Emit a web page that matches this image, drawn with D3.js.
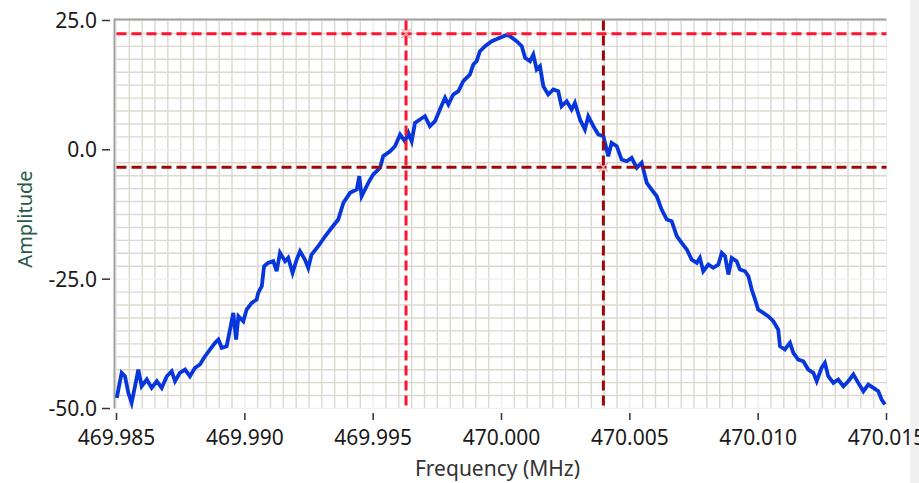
<!DOCTYPE html>
<html lang="en">
	<head>
		<meta charset="utf-8">
		<title>Spectrum</title>
		<script src="https://d3js.org/d3.v7.min.js"></script>
		<style type="text/css">
			body {
				margin: 0;
				background-color: #ffffff;
				font-family: "Noto Sans", "Open Sans", Arial, sans-serif;
			}
			svg { display: block; }
		</style>
	</head>
	<body>
		<script type="text/javascript">

			// Trace: frequency (MHz) and amplitude
			var freq = [
				469.98501, 469.98520, 469.98533, 469.98546, 469.98559, 469.98572, 469.98585, 469.98598,
				469.98618, 469.98637, 469.98657, 469.98676, 469.98696, 469.98715, 469.98728, 469.98747,
				469.98767, 469.98786, 469.98806, 469.98825, 469.98845, 469.98864, 469.98884, 469.98897,
				469.98910, 469.98929, 469.98945, 469.98955, 469.98966, 469.98975, 469.98994, 469.99007,
				469.99027, 469.99046, 469.99052, 469.99066, 469.99075, 469.99091, 469.99111, 469.99124,
				469.99137, 469.99157, 469.99169, 469.99186, 469.99202, 469.99215, 469.99234, 469.99247,
				469.99260, 469.99286, 469.99312, 469.99336, 469.99364, 469.99384, 469.99410, 469.99436,
				469.99446, 469.99455, 469.99481, 469.99500, 469.99527, 469.99539, 469.99566, 469.99585,
				469.99605, 469.99624, 469.99637, 469.99650, 469.99663, 469.99682, 469.99702, 469.99721,
				469.99741, 469.99760, 469.99780, 469.99793, 469.99812, 469.99832, 469.99851, 469.99877,
				469.99890, 469.99903, 469.99916, 469.99936, 469.99962, 469.99994, 470.00020, 470.00033,
				470.00059, 470.00079, 470.00092, 470.00111, 470.00124, 470.00137, 470.00150, 470.00163,
				470.00182, 470.00202, 470.00221, 470.00234, 470.00254, 470.00273, 470.00286, 470.00306,
				470.00325, 470.00338, 470.00358, 470.00377, 470.00397, 470.00416, 470.00429, 470.00449,
				470.00468, 470.00488, 470.00507, 470.00527, 470.00546, 470.00566, 470.00585, 470.00605,
				470.00624, 470.00644, 470.00663, 470.00683, 470.00702, 470.00722, 470.00741, 470.00761,
				470.00773, 470.00786, 470.00806, 470.00825, 470.00845, 470.00858, 470.00871, 470.00884,
				470.00897, 470.00916, 470.00929, 470.00949, 470.00962, 470.00975, 470.00988, 470.01000,
				470.01020, 470.01039, 470.01059, 470.01078, 470.01085, 470.01104, 470.01124, 470.01137,
				470.01156, 470.01176, 470.01195, 470.01215, 470.01228, 470.01247, 470.01260, 470.01273,
				470.01293, 470.01312, 470.01332, 470.01351, 470.01371, 470.01390, 470.01410, 470.01429,
				470.01449, 470.01468, 470.01481, 470.01494
			];
			var amplitude = [
				-47.94, -43.11, -43.76, -46.97, -48.90, -45.70, -42.47, -45.70,
				-44.40, -46.01, -44.73, -46.01, -43.76, -42.80, -44.73, -43.11,
				-42.47, -43.76, -42.14, -41.50, -39.90, -38.60, -37.31, -36.67,
				-38.27, -37.96, -34.10, -31.51, -36.67, -32.17, -33.13, -30.87,
				-29.57, -28.94, -27.64, -26.37, -22.50, -21.84, -21.53, -23.47,
				-19.91, -21.53, -20.88, -23.78, -21.21, -19.60, -21.21, -22.81,
				-20.24, -18.63, -16.76, -15.21, -13.47, -10.24, -8.31, -7.67,
				-5.10, -8.97, -6.38, -4.77, -3.48, -1.24, -0.27, 0.70,
				2.96, 1.66, 3.29, 1.66, 5.22, 5.86, 6.49, 4.56,
				5.53, 7.79, 10.05, 8.76, 10.69, 11.33, 13.26, 14.56,
				16.49, 17.13, 19.06, 20.03, 20.99, 21.65, 22.19, 21.96,
				20.99, 20.03, 17.78, 17.13, 18.42, 15.52, 16.16, 12.29,
				10.69, 11.66, 11.33, 8.43, 9.39, 7.79, 9.09, 5.86,
				3.92, 6.49, 4.56, 2.96, 2.63, -1.24, 1.35, 0.70,
				-1.88, -2.20, -1.55, -3.48, -2.51, -6.38, -7.67, -8.97,
				-11.54, -13.47, -13.80, -16.70, -17.98, -19.27, -21.21, -21.84,
				-20.88, -23.47, -22.17, -22.81, -22.17, -19.91, -20.57, -24.10,
				-20.88, -21.53, -23.14, -23.47, -24.43, -27.00, -28.94, -30.87,
				-31.51, -32.17, -33.13, -34.74, -37.96, -38.60, -37.31, -39.24,
				-40.54, -40.86, -42.47, -43.11, -44.73, -42.14, -41.17, -43.76,
				-45.04, -44.40, -45.70, -44.73, -43.43, -45.04, -46.66, -45.37,
				-46.01, -46.66, -48.27, -49.23
			];

			// Cursors: [frequency, amplitude]
			var cursor1 = [469.99628, 22.42];
			var cursor2 = [470.00397, -3.36];

			// Axis ticks
			var xTicks = [469.985, 469.990, 469.995, 470.000, 470.005, 470.010, 470.015];
			var yTicks = [-50, -25, 0, 25];

			var w = 919;
			var h = 483;

			var x = d3.scaleLinear()
				.domain([469.985, 470.015])
				.range([116.5, 886.5]);

			var y = d3.scaleLinear()
				.domain([-50, 25])
				.range([408.5, 20.5]);

			var svg = d3.select("body")
				.append("svg")
				.attr("width", w)
				.attr("height", h);

			svg.append("rect")
				.attr("width", w)
				.attr("height", h)
				.attr("fill", "#ffffff");

			// Panel edge on the right (behind the last tick label)
			svg.append("rect")
				.attr("x", 910).attr("y", 0)
				.attr("width", 9).attr("height", h)
				.attr("fill", "#f0f0f0");

			var x0 = x.range()[0], x1 = x.range()[1];
			var y0 = y.range()[1], y1 = y.range()[0];

			// Minor grid (10 per major division), majors drawn lighter
			var xGrid = d3.range(0, 61).map(function(i) { return 469.985 + i * 0.0005; });
			var yGrid = d3.range(0, 31).map(function(i) { return -50 + i * 2.5; });

			var grid = svg.append("g").attr("class", "grid");

			grid.selectAll("line.vx")
				.data(xGrid)
				.enter().append("line")
				.attr("class", "vx")
				.attr("x1", function(d) { return x(d); })
				.attr("x2", function(d) { return x(d); })
				.attr("y1", y0)
				.attr("y2", y1)
				.attr("stroke", function(d, i) { return i % 10 == 0 ? "#efefef" : "#dcd8d0"; })
				.attr("stroke-width", 1.4);

			grid.selectAll("line.hy")
				.data(yGrid)
				.enter().append("line")
				.attr("class", "hy")
				.attr("x1", x0)
				.attr("x2", x1)
				.attr("y1", function(d) { return y(d); })
				.attr("y2", function(d) { return y(d); })
				.attr("stroke", function(d, i) { return i % 10 == 0 ? "#efefef" : "#dcd8d0"; })
				.attr("stroke-width", 1.4);

			// Plot frame (top and left)
			svg.append("line")
				.attr("x1", x0 - 2).attr("x2", x1)
				.attr("y1", y0 - 1).attr("y2", y0 - 1)
				.attr("stroke", "#a0a0a0").attr("stroke-width", 2);
			svg.append("line")
				.attr("x1", x0 - 2).attr("x2", x0 - 2)
				.attr("y1", y0 - 2).attr("y2", y1)
				.attr("stroke", "#a0a0a0").attr("stroke-width", 2);

			// Trace
			var points = freq.map(function(f, i) { return [f, amplitude[i]]; });

			var line = d3.line()
				.x(function(d) { return x(d[0]); })
				.y(function(d) { return y(d[1]); });

			svg.append("path")
				.datum(points)
				.attr("d", line)
				.attr("fill", "none")
				.attr("stroke", "#0636dc")
				.attr("stroke-width", 3.8)
				.attr("stroke-linejoin", "miter");

			// Cursors
			function drawCursor(c, color) {
				var g = svg.append("g");
				g.append("line")
					.attr("x1", x0).attr("x2", x1)
					.attr("y1", y(c[1])).attr("y2", y(c[1]))
					.attr("stroke", color).attr("stroke-width", 3)
					.attr("stroke-dasharray", "10,5");
				g.append("line")
					.attr("x1", x(c[0])).attr("x2", x(c[0]))
					.attr("y1", y0).attr("y2", y1)
					.attr("stroke", color).attr("stroke-width", 3)
					.attr("stroke-dasharray", "10,5");
				var cx = x(c[0]), cy = y(c[1]);
				g.append("path")
					.attr("d", "M" + (cx - 4.5) + "," + (cy - 4.5) + "L" + (cx + 4.5) + "," + (cy + 4.5) +
						"M" + (cx - 4.5) + "," + (cy + 4.5) + "L" + (cx + 4.5) + "," + (cy - 4.5))
					.attr("stroke", "#f4a0a8").attr("stroke-width", 1.4)
					.attr("fill", "none");
			}
			drawCursor(cursor1, "#fa1530");
			drawCursor(cursor2, "#a00808");

			// Y axis
			var yAxis = svg.append("g").attr("font-size", "21px");
			yAxis.selectAll("line")
				.data(yTicks)
				.enter().append("line")
				.attr("x1", 102).attr("x2", 110)
				.attr("y1", function(d) { return y(d); })
				.attr("y2", function(d) { return y(d); })
				.attr("stroke", "#333").attr("stroke-width", 1.5);
			yAxis.selectAll("text")
				.data(yTicks)
				.enter().append("text")
				.attr("x", 97)
				.attr("y", function(d) { return y(d); })
				.attr("dy", "0.36em")
				.attr("text-anchor", "end")
				.attr("fill", "#1a1a1a")
				.text(function(d) { return d3.format(".1f")(d).replace("−", "-"); });

			// X axis
			var xAxis = svg.append("g").attr("font-size", "21px");
			xAxis.selectAll("line")
				.data(xTicks)
				.enter().append("line")
				.attr("x1", function(d) { return x(d); })
				.attr("x2", function(d) { return x(d); })
				.attr("y1", 413).attr("y2", 420)
				.attr("stroke", "#333").attr("stroke-width", 1.5);
			xAxis.selectAll("text")
				.data(xTicks)
				.enter().append("text")
				.attr("x", function(d) { return x(d); })
				.attr("y", 445)
				.attr("text-anchor", "middle")
				.attr("fill", "#1a1a1a")
				.text(function(d) { return d3.format(".3f")(d); });

			// Axis titles
			svg.append("text")
				.attr("x", (x0 + x1) / 2 - 4)
				.attr("y", 476)
				.attr("text-anchor", "middle")
				.attr("font-size", "21px")
				.attr("fill", "#333")
				.text("Frequency (MHz)");

			svg.append("text")
				.attr("transform", "translate(32,219) rotate(-90)")
				.attr("text-anchor", "middle")
				.attr("font-size", "20px")
				.attr("fill", "#2a5a48")
				.text("Amplitude");

		</script>
	</body>
</html>
